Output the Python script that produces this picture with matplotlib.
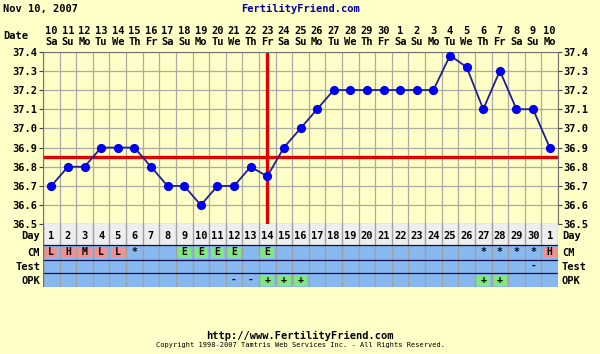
import matplotlib
matplotlib.use("Agg")
from matplotlib import pyplot as plt
import numpy as np

# chart data
temps = [36.7, 36.8, 36.8, 36.9, 36.9, 36.9, 36.8, 36.7, 36.7, 36.6, 36.7,
         36.7, 36.8, 36.75, 36.9, 37.0, 37.1, 37.2, 37.2, 37.2, 37.2, 37.2,
         37.2, 37.2, 37.38, 37.32, 37.1, 37.3, 37.1, 37.1, 36.9]
dates = [str(d) for d in range(10, 31)] + [str(d) for d in range(1, 11)]
weekdays = ['Sa', 'Su', 'Mo', 'Tu', 'We', 'Th', 'Fr'] * 4 + ['Sa', 'Su', 'Mo']
cycle_days = [str(d) for d in range(1, 31)] + ['1']
cm = ['L', 'H', 'M', 'L', 'L', '*', '', '', 'E', 'E', 'E', 'E', '', 'E'] + [''] * 12 + ['*', '*', '*', '*', 'H']
test = [''] * 29 + ['-', '']
opk = [''] * 11 + ['-', '-', '+', '+', '+'] + [''] * 10 + ['+', '+', '', '', '']
coverline = 36.85
ovulation_day = 14
temp_ticks = [36.5, 36.6, 36.7, 36.8, 36.9, 37.0, 37.1, 37.2, 37.3, 37.4]

W, H = 600, 354
BG = '#FFFFC8'
FONT = 'DejaVu Sans Mono'
x = np.arange(1, len(temps) + 1)

fig = plt.figure(figsize=(W / 100, H / 100), dpi=100)
fig.patch.set_facecolor(BG)

L, R, T, B = 43, 558, 51.7, 224.3
ax = fig.add_axes([L / W, (H - B) / H, (R - L) / W, (B - T) / H])
ax.set_facecolor(BG)
ax.set_xlim(0.5, len(temps) + 0.5)
ax.set_ylim(36.5, 37.4)
ax.set_xticks(np.arange(0.5, len(temps) + 1, 1))
ax.set_xticklabels([])
ax.tick_params(axis='x', length=0)
ax.set_yticks(temp_ticks)
ax.set_yticklabels(['%.1f' % t for t in temp_ticks], fontfamily=FONT, fontweight='bold', fontsize=7.5)
ax.tick_params(axis='y', length=3, width=0.8, color='#404040', pad=1, labelright=True, right=True)
ax.grid(True, color='#ABABA3', lw=0.9)
ax.set_axisbelow(True)
for s in ax.spines.values():
    s.set_color('#707070')
    s.set_linewidth(0.8)

ax.axhline(coverline, color='#E00000', lw=2.4, zorder=2)
ax.axvline(ovulation_day, color='#E00000', lw=2.4, zorder=2)
ax.plot(x, temps, color='#20208C', lw=1.3, zorder=3)
ax.plot(x, temps, 'o', color='#0000F0', markersize=5.6, zorder=4)

# date header
for i in range(len(temps)):
    ax.text(x[i], 1.0 + 21 / (B - T), dates[i], transform=ax.get_xaxis_transform(),
            ha='center', va='center', fontfamily=FONT, fontweight='bold', fontsize=7.5)
    ax.text(x[i], 1.0 + 10 / (B - T), weekdays[i], transform=ax.get_xaxis_transform(),
            ha='center', va='center', fontfamily=FONT, fontweight='bold', fontsize=7.5)

# table of observations
TB = 287
tb = fig.add_axes([L / W, (H - TB) / H, (R - L) / W, (TB - B) / H])
tb.set_xlim(0.5, len(temps) + 0.5)
tb.set_ylim(TB - B, 0)
tb.axis('off')
rows = [0, 20.7, 35.2, 48.7, 62.7]
tb.axhspan(rows[0], rows[1], color='#EEEEEE', lw=0)
tb.axhspan(rows[1], rows[4], color='#88B8F0', lw=0)
for b in np.arange(0.5, len(temps) + 1, 1):
    tb.plot([b, b], [rows[0], rows[4]], color='#A0A0A0', lw=1)
for r in rows[1:4]:
    tb.axhline(r, color='#101050', lw=0.9)
tb.axvline(0.5, color='#707070', lw=1)

colors_cm = {'L': '#F09090', 'H': '#F09090', 'M': '#F09090', 'E': '#80E880'}
colors_opk = {'+': '#80E880'}
for vals, cmap, r in [(cm, colors_cm, 1), (test, {}, 2), (opk, colors_opk, 3)]:
    y0, y1 = rows[r], rows[r + 1]
    for i, v in enumerate(vals):
        if v in cmap:
            tb.bar(x[i], y1 - y0 - 3, bottom=y0 + 1.5, width=0.82, color=cmap[v], lw=0)
        if v:
            tb.text(x[i], (y0 + y1) / 2, v, ha='center', va='center', fontfamily=FONT,
                    fontweight='bold', fontsize=7)
for i in range(len(temps)):
    tb.text(x[i], (rows[0] + rows[1]) / 2 + 1, cycle_days[i], ha='center', va='center',
            fontfamily=FONT, fontweight='bold', fontsize=7.5)

labels = ['Day', 'CM', 'Test', 'OPK']
for k, lab in enumerate(labels):
    yc = 1 - ((rows[k] + rows[k + 1]) / 2 + 1) / (TB - B)
    tb.text(-3 / (R - L), yc, lab, transform=tb.transAxes, ha='right', va='center',
            fontfamily=FONT, fontweight='bold', fontsize=7.5)
    tb.text(1 + 4 / (R - L), yc, lab, transform=tb.transAxes, ha='left', va='center',
            fontfamily=FONT, fontweight='bold', fontsize=7.5)

fig.text(3 / W, 1 - 36 / H, 'Date', ha='left', va='center', fontfamily=FONT,
         fontweight='bold', fontsize=7.5)
fig.text(3 / W, 1 - 9 / H, 'Nov 10, 2007', ha='left', va='center', fontfamily=FONT,
         fontweight='bold', fontsize=7.5)
fig.text(300 / W, 1 - 9 / H, 'FertilityFriend.com', ha='center', va='center', fontfamily=FONT,
         fontweight='bold', fontsize=7.5, color='#0000A0')
fig.text(300 / W, 1 - 336 / H, 'http://www.FertilityFriend.com', ha='center', va='center',
         fontfamily=FONT, fontweight='bold', fontsize=7.5)
fig.text(300 / W, 1 - 345 / H, 'Copyright 1998-2007 Tamtris Web Services Inc. - All Rights Reserved.',
         ha='center', va='center', fontfamily=FONT, fontsize=5)

fig.savefig('out.png', dpi=100, facecolor=BG)
